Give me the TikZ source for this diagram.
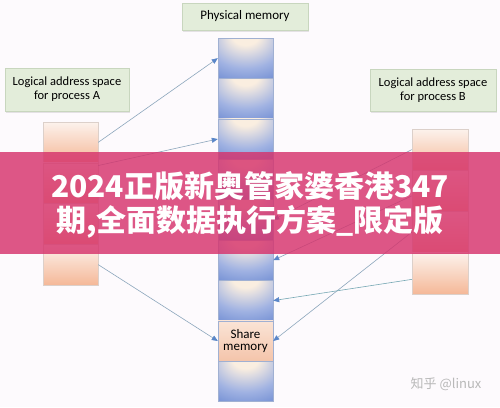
\documentclass[tikz,border=0pt]{standalone}
\usepackage{fontspec}
\setmainfont{Carlito}
\newfontfamily\cjk{Noto Sans CJK SC}
\usepackage{tikz}
\usetikzlibrary{arrows.meta}
\usetikzlibrary{shadows}
\usetikzlibrary{calc}

\definecolor{pagebg}{RGB}{253,250,253}
\definecolor{labelfill}{RGB}{227,237,218}
\definecolor{labeldraw}{RGB}{200,214,190}
\definecolor{physlight}{RGB}{250,238,224}
\definecolor{physmid}{RGB}{160,178,226}
\definecolor{physdark}{RGB}{80,116,200}
\definecolor{physdraw}{RGB}{160,176,210}
\definecolor{peachtop}{RGB}{252,242,236}
\definecolor{peachbot}{RGB}{245,184,152}
\definecolor{sharetop}{RGB}{250,228,214}
\definecolor{sharebot}{RGB}{244,196,170}
\definecolor{blockdraw}{RGB}{220,208,202}
\definecolor{linkline}{RGB}{140,166,188}
\definecolor{linktip}{RGB}{90,134,200}
\definecolor{bannerpink}{RGB}{214,51,108}
\definecolor{markgray}{RGB}{184,184,184}

\pgfdeclareradialshading{physshade}{\pgfpoint{0bp}{32bp}}{%
  color(0bp)=(physlight); color(12bp)=(physlight); color(34bp)=(physmid);
  color(62bp)=(physdark); color(100bp)=(physdark)}

\tikzstyle{label box}=[draw=labeldraw, fill=labelfill, line width=0.6pt,
  drop shadow={shadow xshift=1pt, shadow yshift=-1.5pt, opacity=0.2},
  align=center, font=\fontsize{12.5}{14}\selectfont, inner sep=0pt]
\tikzstyle{phys block}=[draw=physdraw, line width=0.4pt, shading=physshade,
  minimum width=55pt, minimum height=40.4pt, inner sep=0pt]
\tikzstyle{share block}=[draw=physdraw, line width=0.4pt, top color=sharetop,
  bottom color=sharebot, minimum width=55pt, minimum height=40.4pt,
  inner sep=0pt, align=center, font=\fontsize{13}{14}\selectfont]
\tikzstyle{proc block}=[draw=blockdraw, line width=0.4pt, top color=peachtop,
  bottom color=peachbot, inner sep=0pt]
\tikzstyle{link}=[draw=linkline, line width=0.6pt,
  -{Triangle[length=6pt, width=5pt, fill=linktip, color=linktip]}]

\begin{document}
\begin{tikzpicture}[x=1pt, y=-1pt]
      % page
      \fill[pagebg] (0,0) rectangle (500,407);
      \useasboundingbox (0,0) rectangle (500,407);

      % labels
      \node [label box, minimum width=126pt, minimum height=27pt,
             font=\fontsize{13}{14}\selectfont] (physlabel) at (245,16.5) {Physical memory};
      \node [label box, minimum width=124pt, minimum height=43pt] (alabel) at (67,89.5)
            {Logical address space\\for process A};
      \node [label box, minimum width=126pt, minimum height=42pt] (blabel) at (433,90)
            {Logical address space\\for process B};

      % physical memory
      \foreach \i in {1,...,7,9}
        \node [phys block] (p\i) at (245.5,{38+(\i-0.5)*40.4}) {};
      \node [share block] (p8) at (245.5,{38+7.5*40.4}) {Share\\[-2pt]memory};

      % process A and B
      \foreach \i in {1,...,4} {
        \node [proc block, minimum width=55pt, minimum height=40.75pt] (a\i)
              at (70.5,{122+(\i-0.5)*40.75}) {};
        \node [proc block, minimum width=56pt, minimum height=41.25pt] (b\i)
              at (440,{129+(\i-0.5)*41.25}) {};
      }

      % mappings
      \draw [link] (a1.east) -- (p1.west);
      \draw [link] ([yshift=-3pt]a2.north east) -- (p3.west);
      \draw [link] (a4.east) -- (p8.west);
      \draw [link] (b1.west) -- (p5.east);
      \draw [link] ([yshift=-5pt]b2.west) -- (p6.east);
      \draw [link] (b3.west) -- (p8.east);
      \draw [link, draw={rgb,255:red,118;green,168;blue,180}] ([yshift=-6pt]b4.west) -- (p7.east);

      % banner
      \fill [bannerpink, opacity=0.82] (0,152) rectangle (500,254);
      \node [text=white, font=\cjk\bfseries\fontsize{30}{32}\selectfont, inner sep=0pt]
            (line1) at (250,186) {2024正版新奥管家婆香港347};
      \node [text=white, font=\cjk\bfseries\fontsize{30}{32}\selectfont, inner sep=0pt]
            (line2) at (250,222) {期,全面数据执行方案\_限定版};

      % watermark
      \node [text=markgray, font=\cjk\fontsize{13}{14}\selectfont, inner sep=0pt]
            (mark) at (446,384) {知乎 @linux};
\end{tikzpicture}
\end{document}
